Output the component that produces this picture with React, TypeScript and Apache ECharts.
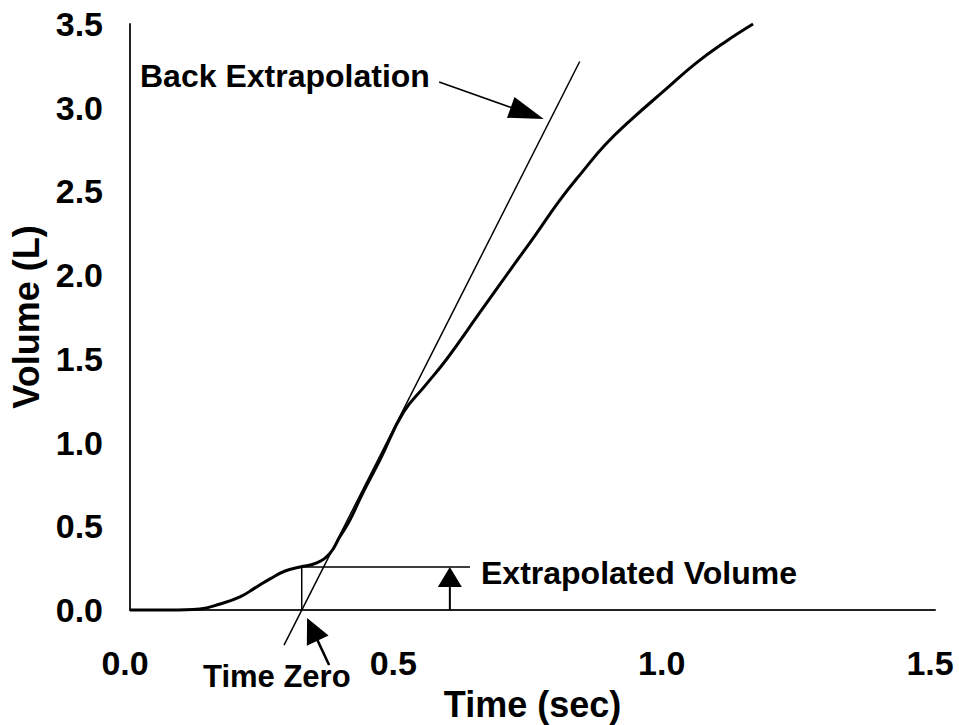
import React, { useEffect, useRef } from "react";
import * as echarts from "echarts";

// Measured volume–time curve (sec, L)
const TIME = [0, 0.075, 0.13, 0.168, 0.205, 0.233, 0.261, 0.289, 0.317, 0.348, 0.373, 0.391, 0.41, 0.434, 0.466, 0.509, 0.55, 0.591, 0.652, 0.708, 0.755, 0.801, 0.844, 0.885, 0.935, 0.997, 1.053, 1.109, 1.161];
const VOLUME = [0, 0, 0.006, 0.036, 0.078, 0.132, 0.186, 0.233, 0.257, 0.281, 0.341, 0.437, 0.539, 0.7, 0.898, 1.179, 1.34, 1.502, 1.777, 2.029, 2.238, 2.448, 2.621, 2.777, 2.932, 3.106, 3.262, 3.393, 3.5];

// Back-extrapolation line endpoints
const BACK_EXTRAP_TIME = [0.287, 0.838];
const BACK_EXTRAP_VOLUME = [-0.21, 3.276];

// Time zero / extrapolated volume construction lines
const CONSTRUCT_TIME = [0.32, 0.32, 0.6335];
const CONSTRUCT_VOLUME = [0, 0.257, 0.257];

// Annotation arrows: [fromTime, fromVolume, toTime, toVolume]
const ARROWS = [
  [0.596, 0, 0.596, 0.257],
  [0.371, -0.329, 0.33, -0.048],
  [0.576, 3.154, 0.771, 2.932],
];

const X_TICK_LABELS = ["0.0", "0.5", "1.0", "1.5"];
const Y_TICK_LABELS = ["0.0", "0.5", "1.0", "1.5", "2.0", "2.5", "3.0", "3.5"];

const X_TITLE = "Time (sec)";
const Y_TITLE = "Volume (L)";
const ANNOTATIONS = ["Back Extrapolation", "Extrapolated Volume", "Time Zero"];

// styles (kept apart from the data)
const ARROW_HEAD = [
  { len: 20, half: 12, width: 2 },
  { len: 25, half: 12, width: 2.5 },
  { len: 35, half: 11, width: 1.5 },
];
const FONT = '"Liberation Sans", Arial, Helvetica, sans-serif';

export default function App() {
  const ref = useRef<HTMLDivElement>(null);

  useEffect(() => {
    if (!ref.current) return;
    const chart = echarts.init(ref.current, null, { renderer: "svg" });

    const curve = TIME.map((t, i) => [t, VOLUME[i]]);
    const back = BACK_EXTRAP_TIME.map((t, i) => [t, BACK_EXTRAP_VOLUME[i]]);
    const construct = CONSTRUCT_TIME.map((t, i) => [t, CONSTRUCT_VOLUME[i]]);

    const annoText = (text: string, x: number, y: number, size: number) => ({
      type: "text",
      x,
      y,
      silent: true,
      style: {
        text,
        fill: "#000",
        font: `bold ${size}px ${FONT}`,
        align: "left",
        verticalAlign: "middle",
      },
    });

    chart.setOption({
      animation: false,
      backgroundColor: "#fff",
      grid: { left: 130, right: 24, top: 24, bottom: 115, outerBoundsMode: "none" },
      xAxis: {
        type: "value",
        min: 0,
        max: 1.5,
        interval: 0.5,
        name: X_TITLE,
        nameLocation: "middle",
        nameGap: 76,
        nameMoveOverlap: false,
        nameTextStyle: { fontSize: 36, fontWeight: "bold", color: "#000", fontFamily: FONT },
        axisLine: { show: true, lineStyle: { color: "#222", width: 2 } },
        axisTick: { show: false },
        splitLine: { show: false },
        axisLabel: {
          margin: 36,
          fontSize: 34,
          fontWeight: "bold",
          color: "#000",
          fontFamily: FONT,
          padding: [0, 10, 0, 0],
          formatter: (v: number) => X_TICK_LABELS[Math.round(v / 0.5)] ?? "",
        },
      },
      yAxis: {
        type: "value",
        min: 0,
        max: 3.5,
        interval: 0.5,
        name: Y_TITLE,
        nameLocation: "middle",
        nameGap: 86,
        nameMoveOverlap: false,
        nameTextStyle: { fontSize: 36, fontWeight: "bold", color: "#000", fontFamily: FONT },
        axisLine: { show: true, lineStyle: { color: "#222", width: 2 } },
        axisTick: { show: false },
        splitLine: { show: false },
        axisLabel: {
          margin: 27,
          fontSize: 34,
          fontWeight: "bold",
          color: "#000",
          fontFamily: FONT,
          formatter: (v: number) => Y_TICK_LABELS[Math.round(v / 0.5)] ?? "",
        },
      },
      series: [
        {
          type: "line",
          data: curve,
          smooth: 0.45,
          showSymbol: false,
          clip: false,
          lineStyle: { color: "#000", width: 3 },
        },
        {
          type: "line",
          data: back,
          showSymbol: false,
          clip: false,
          lineStyle: { color: "#000", width: 1.5 },
        },
        {
          type: "line",
          data: construct,
          showSymbol: false,
          clip: false,
          lineStyle: { color: "#000", width: 1.5 },
        },
        {
          type: "custom",
          clip: false,
          data: ARROWS,
          encode: { x: [0, 2], y: [1, 3] },
          renderItem: (params: any, api: any) => {
            const p1 = api.coord([api.value(0), api.value(1)]);
            const p2 = api.coord([api.value(2), api.value(3)]);
            const st = ARROW_HEAD[params.dataIndex];
            const dx = p2[0] - p1[0];
            const dy = p2[1] - p1[1];
            const d = Math.sqrt(dx * dx + dy * dy) || 1;
            const ux = dx / d;
            const uy = dy / d;
            const bx = p2[0] - ux * st.len;
            const by = p2[1] - uy * st.len;
            const nx = -uy * st.half;
            const ny = ux * st.half;
            return {
              type: "group",
              children: [
                {
                  type: "line",
                  shape: { x1: p1[0], y1: p1[1], x2: bx + ux * 2, y2: by + uy * 2 },
                  style: { stroke: "#000", lineWidth: st.width },
                },
                {
                  type: "polygon",
                  shape: { points: [[p2[0], p2[1]], [bx + nx, by + ny], [bx - nx, by - ny]] },
                  style: { fill: "#000" },
                },
              ],
            };
          },
        },
      ],
      graphic: [
        annoText(ANNOTATIONS[0], 140, 76, 32),
        annoText(ANNOTATIONS[1], 481, 573, 32),
        annoText(ANNOTATIONS[2], 203, 676, 31),
      ],
    });

    return () => chart.dispose();
  }, []);

  return (
    <div
      ref={ref}
      style={{ position: "fixed", left: 0, top: 0, width: 959, height: 725, background: "#fff" }}
    />
  );
}
